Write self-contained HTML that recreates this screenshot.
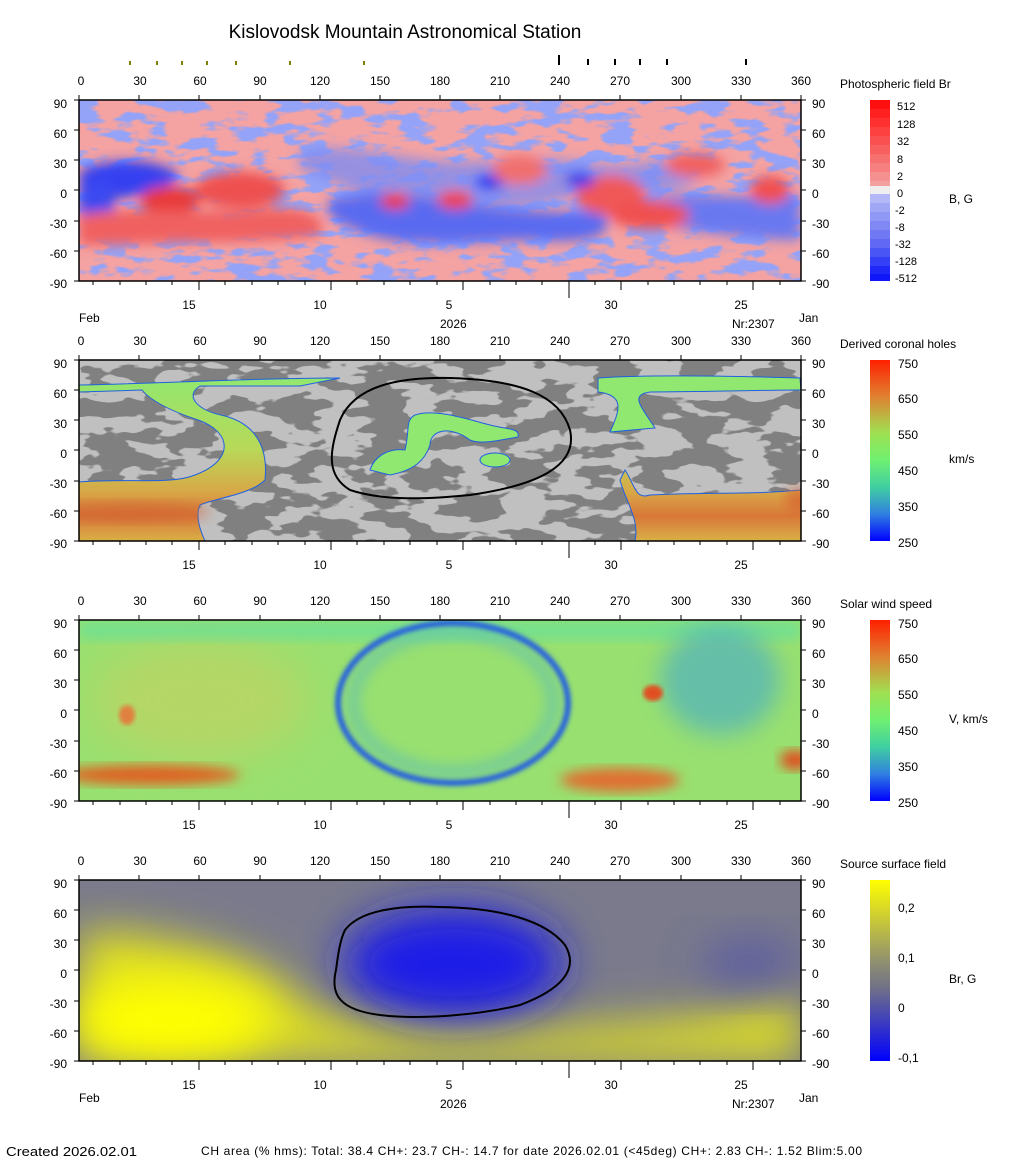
<!DOCTYPE html>
<html><head><meta charset="utf-8"><style>
body{margin:0;background:#fff;}
svg{display:block;font-family:"Liberation Sans",sans-serif;}
.t{font-size:12px;fill:#000}
</style></head><body>
<svg width="1020" height="1172" viewBox="0 0 1020 1172">
<defs>
<filter id="b6" x="-20%" y="-20%" width="140%" height="140%"><feGaussianBlur stdDeviation="6"/></filter>
<filter id="b3"><feGaussianBlur stdDeviation="2"/></filter>
<filter id="b12" x="-30%" y="-30%" width="160%" height="160%"><feGaussianBlur stdDeviation="12"/></filter>
<filter id="b20" x="-50%" y="-50%" width="200%" height="200%"><feGaussianBlur stdDeviation="22"/></filter>
<filter id="noise1" x="0" y="0" width="100%" height="100%" color-interpolation-filters="sRGB">
 <feTurbulence type="fractalNoise" baseFrequency="0.03 0.08" numOctaves="3" seed="4"/>
 <feColorMatrix type="matrix" values="0 0 0 0 0.58  0 0 0 0 0.64  0 0 0 0 0.97  8 0 0 0 -3.9"/>
</filter>
<filter id="noise2" x="0" y="0" width="100%" height="100%" color-interpolation-filters="sRGB">
 <feTurbulence type="fractalNoise" baseFrequency="0.022 0.06" numOctaves="3" seed="9"/>
 <feColorMatrix type="matrix" values="0 0 0 0 0.5  0 0 0 0 0.5  0 0 0 0 0.5  30 0 0 0 -14.5"/>
</filter>
<linearGradient id="cbar" x1="0" y1="0" x2="0" y2="1">
 <stop offset="0" stop-color="#ff2000"/><stop offset="0.2" stop-color="#e08030"/>
 <stop offset="0.4" stop-color="#a0e050"/><stop offset="0.55" stop-color="#70f070"/>
 <stop offset="0.7" stop-color="#40d0a0"/><stop offset="0.85" stop-color="#3080e0"/>
 <stop offset="1" stop-color="#0000ff"/></linearGradient>
<linearGradient id="cbar4" x1="0" y1="0" x2="0" y2="1">
 <stop offset="0" stop-color="#ffff00"/><stop offset="0.45" stop-color="#909070"/>
 <stop offset="0.6" stop-color="#707088"/><stop offset="1" stop-color="#0000ff"/></linearGradient>
<linearGradient id="orng" gradientUnits="userSpaceOnUse" x1="0" y1="375" x2="0" y2="541">
 <stop offset="0" stop-color="#90e870"/><stop offset="0.45" stop-color="#b8d858"/><stop offset="0.7" stop-color="#d8a848"/><stop offset="0.85" stop-color="#d87838"/><stop offset="1" stop-color="#d8b048"/></linearGradient>
<clipPath id="c1"><rect x="79" y="100" width="722" height="181"/></clipPath>
<clipPath id="c2"><rect x="79" y="360" width="722" height="181"/></clipPath>
<clipPath id="c3"><rect x="79" y="620" width="722" height="181"/></clipPath>
<clipPath id="c4"><rect x="79" y="880" width="722" height="181"/></clipPath>
</defs>

<text x="405" y="38" text-anchor="middle" style="font-size:19px">Kislovodsk Mountain Astronomical Station</text>
<g stroke="#808000" stroke-width="2">
<line x1="130" y1="61" x2="130" y2="65"/><line x1="157" y1="61" x2="157" y2="65"/><line x1="182" y1="61" x2="182" y2="65"/><line x1="207" y1="61" x2="207" y2="65"/><line x1="236" y1="61" x2="236" y2="65"/><line x1="290" y1="61" x2="290" y2="65"/><line x1="364" y1="61" x2="364" y2="65"/></g>
<g stroke="#000" stroke-width="2">
<line x1="559" y1="55" x2="559" y2="65"/><line x1="588" y1="59" x2="588" y2="65"/><line x1="615" y1="59" x2="615" y2="65"/><line x1="640" y1="59" x2="640" y2="65"/><line x1="667" y1="59" x2="667" y2="65"/><line x1="746" y1="59" x2="746" y2="65"/></g>

<!-- PANEL 1 -->
<g clip-path="url(#c1)">
<rect x="79" y="100" width="722" height="181" fill="#f4a2a2"/>
<rect x="79" y="100" width="722" height="181" filter="url(#noise1)"/>
<g filter="url(#b6)">
<path d="M300 150 C360 140 420 170 500 160 C560 150 600 175 660 160 L700 180 C660 200 600 190 560 200 C520 210 470 200 420 210 C380 200 330 180 300 170Z" fill="#7f8cf0" opacity="0.8"/>
<path d="M330 200 C380 185 430 200 470 205 C520 210 560 215 600 210 C620 230 600 245 540 240 C480 240 420 250 370 235 C340 225 320 215 330 200Z" fill="#5a6af0"/>
<path d="M640 200 C690 190 740 200 800 195 L800 240 C750 240 700 230 650 225Z" fill="#6a78f0"/>
<path d="M80 170 C120 155 160 160 180 175 C170 190 140 195 110 200 C95 200 85 195 80 190Z" fill="#3540f0"/>
<path d="M79 185 L110 180 L115 210 L79 215Z" fill="#3a48f0"/>
<ellipse cx="170" cy="200" rx="30" ry="14" fill="#e83a3a"/>
<ellipse cx="240" cy="190" rx="45" ry="18" fill="#ee5050"/>
<path d="M79 215 C130 205 200 215 260 210 C300 205 330 215 320 235 C270 245 180 240 120 245 L79 245Z" fill="#f06060"/>
<ellipse cx="395" cy="201" rx="15" ry="8" fill="#ee3030"/>
<ellipse cx="455" cy="200" rx="18" ry="9" fill="#f04040"/>
<ellipse cx="490" cy="182" rx="15" ry="7" fill="#1828f0"/>
<ellipse cx="520" cy="170" rx="28" ry="15" fill="#f07070"/>
<ellipse cx="610" cy="195" rx="35" ry="20" fill="#f05858"/>
<ellipse cx="650" cy="215" rx="40" ry="14" fill="#f05050"/>
<ellipse cx="695" cy="165" rx="30" ry="12" fill="#f06060"/>
<ellipse cx="770" cy="190" rx="20" ry="14" fill="#f05050"/>
<ellipse cx="580" cy="180" rx="15" ry="7" fill="#2030f0"/>
</g>
</g>
<rect x="79" y="100" width="722" height="181" fill="none" stroke="#000" stroke-width="1.5"/>

<!-- PANEL 2 -->
<g clip-path="url(#c2)">
<rect x="79" y="360" width="722" height="181" fill="#c0c0c0"/>
<rect x="79" y="360" width="722" height="181" filter="url(#noise2)"/>
<g fill="#90e870" stroke="#2060e0" stroke-width="1">
<path d="M79 385 C150 384 250 378 340 378 L300 386 L200 386 C185 395 195 410 225 416 C258 425 268 450 265 480 C250 495 215 498 200 505 C195 515 200 530 205 541 L79 541 L79 482 C130 478 170 485 195 475 C235 460 232 432 198 420 C168 410 150 400 142 390 L79 392 Z" fill="url(#orng)"/>
<path d="M598 378 C640 375 700 375 800 378 L801 390 C760 390 700 392 650 392 C630 395 640 405 655 428 L610 432 C620 410 625 395 598 392Z"/>
<path d="M370 470 C375 455 390 448 405 450 C410 430 405 420 415 415 C435 408 470 420 490 425 C510 430 520 428 518 437 C500 440 480 445 470 440 C450 425 430 430 430 445 C425 460 415 470 390 475 Z"/>
<ellipse cx="495" cy="460" rx="15" ry="7"/>
<path d="M801 490 C750 495 700 492 650 495 C635 500 635 485 625 470 L620 480 C625 500 640 520 635 541 L801 541Z" fill="url(#orng)"/>
</g>
<ellipse cx="130" cy="512" rx="80" ry="10" fill="#d06030" filter="url(#b6)" opacity="0.6"/>
<ellipse cx="800" cy="500" rx="15" ry="12" fill="#d86030" filter="url(#b6)" opacity="0.7"/>
<path d="M340 420 C355 385 400 377 450 378 C520 380 560 395 570 430 C578 465 540 485 470 495 C420 500 380 500 350 490 C325 475 330 450 340 420Z" fill="none" stroke="#000" stroke-width="2"/>
</g>
<rect x="79" y="360" width="722" height="181" fill="none" stroke="#000" stroke-width="1.5"/>

<!-- PANEL 3 -->
<g clip-path="url(#c3)">
<rect x="79" y="620" width="722" height="181" fill="#98e070"/>
<ellipse cx="200" cy="700" rx="110" ry="60" fill="#c8d060" filter="url(#b20)" opacity="0.6"/>
<rect x="79" y="620" width="722" height="20" fill="#60e0a0" filter="url(#b6)" opacity="0.6"/>
<ellipse cx="720" cy="680" rx="60" ry="55" fill="#50b0c0" filter="url(#b12)" opacity="0.7"/>
<ellipse cx="453" cy="702" rx="100" ry="70" fill="none" stroke="#60c0b0" stroke-width="14" filter="url(#b6)" opacity="0.6"/>
<ellipse cx="453" cy="703" rx="115" ry="80" fill="none" stroke="#2860e0" stroke-width="6" filter="url(#b3)"/>
<ellipse cx="150" cy="775" rx="90" ry="10" fill="#e06020" filter="url(#b6)"/>
<ellipse cx="620" cy="780" rx="60" ry="12" fill="#e07030" filter="url(#b6)"/>
<ellipse cx="795" cy="760" rx="15" ry="10" fill="#e05020" filter="url(#b6)"/>
<ellipse cx="653" cy="693" rx="10" ry="8" fill="#e05020" filter="url(#b3)"/>
<ellipse cx="127" cy="715" rx="8" ry="10" fill="#e08040" filter="url(#b3)"/>
</g>
<rect x="79" y="620" width="722" height="181" fill="none" stroke="#000" stroke-width="1.5"/>

<!-- PANEL 4 -->
<g clip-path="url(#c4)">
<rect x="79" y="880" width="722" height="181" fill="#7a7a8c"/>
<path d="M79 930 C150 930 260 950 300 1000 C340 1030 500 1035 600 1025 C700 1020 780 1005 801 1000 L801 1061 L79 1061Z" fill="#e0e020" filter="url(#b20)"/>
<ellipse cx="170" cy="1020" rx="100" ry="40" fill="#ffff00" filter="url(#b20)"/>
<ellipse cx="453" cy="963" rx="110" ry="55" fill="#1a1ae8" filter="url(#b20)"/>
<ellipse cx="750" cy="965" rx="50" ry="25" fill="#4848b0" filter="url(#b20)" opacity="0.6"/>
<path d="M345 930 C360 910 400 905 440 907 C500 908 545 920 565 945 C580 970 560 990 520 1005 C480 1015 420 1020 380 1015 C340 1010 330 995 336 970 C338 955 340 940 345 930Z" fill="none" stroke="#000" stroke-width="2"/>
</g>
<rect x="79" y="880" width="722" height="181" fill="none" stroke="#000" stroke-width="1.5"/>

<!-- Axes for all panels -->
<g id="ax">
<g class="t" text-anchor="middle">
<text x="81" y="85">0</text><text x="140" y="85">30</text><text x="200" y="85">60</text><text x="260" y="85">90</text><text x="320" y="85">120</text><text x="380" y="85">150</text><text x="440" y="85">180</text><text x="500" y="85">210</text><text x="560" y="85">240</text><text x="620" y="85">270</text><text x="681" y="85">300</text><text x="741" y="85">330</text><text x="801" y="85">360</text>
</g>
<g stroke="#000" stroke-width="1">
<path d="M79 95V100M139 95V100M199 95V100M260 95V100M320 95V100M380 95V100M440 95V100M500 95V100M560 95V100M620 95V100M681 95V100M741 95V100M801 95V100"/>
<path d="M74 100H79M74 130H79M74 160H79M74 190H79M74 221H79M74 251H79M74 281H79M801 100H806M801 130H806M801 160H806M801 190H806M801 221H806M801 251H806M801 281H806"/>
<path d="M93 281V285M120 281V285M146 281V285M172 281V285M199 281V290M225 281V285M252 281V285M278 281V285M305 281V285M331 281V290M357 281V285M384 281V285M410 281V285M437 281V285M463 281V290M490 281V285M516 281V285M542 281V285M569 281V298M595 281V285M621 281V290M648 281V285M674 281V285M700 281V285M727 281V285M753 281V290M780 281V285"/>
</g>
<g class="t" text-anchor="end">
<text x="67" y="108">90</text><text x="67" y="138">60</text><text x="67" y="168">30</text><text x="67" y="198">0</text><text x="67" y="228">-30</text><text x="67" y="258">-60</text><text x="67" y="288">-90</text>
</g>
<g class="t">
<text x="812" y="108">90</text><text x="812" y="138">60</text><text x="812" y="168">30</text><text x="812" y="198">0</text><text x="812" y="228">-30</text><text x="812" y="258">-60</text><text x="812" y="288">-90</text>
</g>
<g class="t" text-anchor="middle">
<text x="189" y="309">15</text><text x="320" y="309">10</text><text x="449" y="309">5</text><text x="611" y="309">30</text><text x="741" y="309">25</text>
</g>
</g>
<use href="#ax" y="260"/><use href="#ax" y="520"/><use href="#ax" y="780"/>

<g class="t">
<text x="79" y="322">Feb</text><text x="440" y="328">2026</text><text x="732" y="328">Nr:2307</text><text x="799" y="322">Jan</text>
<text x="79" y="1102">Feb</text><text x="440" y="1108">2026</text><text x="732" y="1108">Nr:2307</text><text x="799" y="1102">Jan</text>
</g>

<!-- Colorbars -->
<g>
<rect x="870" y="100" width="20" height="9" fill="#ff1010"/><rect x="870" y="109" width="20" height="9" fill="#ff2020"/>
<rect x="870" y="118" width="20" height="9" fill="#ff3030"/><rect x="870" y="127" width="20" height="9" fill="#fd4040"/>
<rect x="870" y="136" width="20" height="9" fill="#fb5050"/><rect x="870" y="145" width="20" height="9" fill="#f86060"/>
<rect x="870" y="154" width="20" height="9" fill="#f77070"/><rect x="870" y="163" width="20" height="9" fill="#f68080"/>
<rect x="870" y="172" width="20" height="9" fill="#f59090"/><rect x="870" y="181" width="20" height="9" fill="#f4a0a0"/>
<rect x="870" y="186" width="20" height="8" fill="#eeeeee"/>
<rect x="870" y="194" width="20" height="9" fill="#b4b8f8"/><rect x="870" y="203" width="20" height="9" fill="#a0a8f6"/>
<rect x="870" y="212" width="20" height="9" fill="#9098f5"/><rect x="870" y="221" width="20" height="9" fill="#8088f4"/>
<rect x="870" y="230" width="20" height="9" fill="#7078f4"/><rect x="870" y="239" width="20" height="9" fill="#6068f4"/>
<rect x="870" y="248" width="20" height="9" fill="#4a55f5"/><rect x="870" y="257" width="20" height="9" fill="#3540f6"/>
<rect x="870" y="266" width="20" height="8" fill="#2028f8"/><rect x="870" y="274" width="20" height="7" fill="#1018fa"/>
</g>
<g class="t" style="font-size:11px">
<text x="897" y="110">512</text><text x="897" y="128">128</text><text x="897" y="145">32</text><text x="897" y="163">8</text><text x="897" y="180">2</text><text x="897" y="197">0</text><text x="895" y="214">-2</text><text x="895" y="231">-8</text><text x="895" y="248">-32</text><text x="895" y="265">-128</text><text x="895" y="282">-512</text>
</g>
<rect x="870" y="360" width="20" height="181" fill="url(#cbar)"/>
<rect x="870" y="620" width="20" height="181" fill="url(#cbar)"/>
<rect x="870" y="880" width="20" height="181" fill="url(#cbar4)"/>
<g class="t">
<text x="840" y="88">Photospheric field Br</text><text x="949" y="203">B, G</text>
<text x="840" y="348">Derived coronal holes</text><text x="949" y="463">km/s</text>
<text x="840" y="608">Solar wind speed</text><text x="949" y="723">V, km/s</text>
<text x="840" y="868">Source surface field</text><text x="949" y="983">Br, G</text>
<text x="898" y="368">750</text><text x="898" y="403">650</text><text x="898" y="439">550</text><text x="898" y="475">450</text><text x="898" y="511">350</text><text x="898" y="547">250</text>
<text x="898" y="628">750</text><text x="898" y="663">650</text><text x="898" y="699">550</text><text x="898" y="735">450</text><text x="898" y="771">350</text><text x="898" y="807">250</text>
<text x="898" y="912">0,2</text><text x="898" y="962">0,1</text><text x="898" y="1012">0</text><text x="898" y="1062">-0,1</text>
</g>

<g class="t" style="font-size:13px">
<text x="6" y="1156" textLength="131" lengthAdjust="spacingAndGlyphs">Created  2026.02.01</text>
<text x="201" y="1155" style="font-size:12px" textLength="661" lengthAdjust="spacing">CH area (% hms): Total: 38.4 CH+: 23.7   CH-: 14.7 for date 2026.02.01 (&lt;45deg) CH+: 2.83    CH-: 1.52 Blim:5.00</text>
</g>
</svg>
</body></html>
